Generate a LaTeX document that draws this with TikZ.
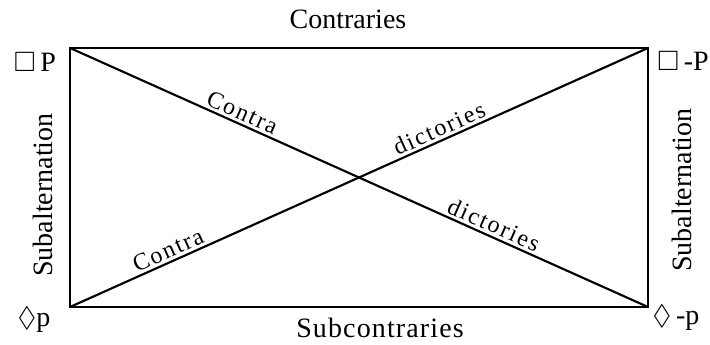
\documentclass[tikz,border=0pt]{standalone}
\usepackage{amssymb}
\usepackage{fontspec}
\setmainfont{Liberation Serif}
\usetikzlibrary{positioning}

\begin{document}
\begin{tikzpicture}[x=0.75pt, y=-0.75pt,
edge/.style={line width=1.6pt},
sidelabel/.style={font=\fontsize{21}{24}\selectfont, inner sep=0pt},
diaglabel/.style={font=\fontsize{18}{20}\selectfont\addfontfeatures{LetterSpace=8}, sloped, above, inner sep=2pt},
cornerlabel/.style={font=\fontsize{21}{24}\selectfont, inner sep=0pt}
]
\useasboundingbox (0,0) rectangle (710,345);

% Ecken
\coordinate (A) at (70,48);
\coordinate (E) at (648,48);
\coordinate (I) at (70,307);
\coordinate (O) at (648,307);

% Quadrat und Diagonalen
\draw[edge] (A) -- (E) -- (O) -- (I) -- cycle;
\draw[edge] (A) -- (O) node[diaglabel, pos=0.29] {Contra} node[diaglabel, pos=0.725] {dictories};
\draw[edge] (I) -- (E) node[diaglabel, pos=0.178] {Contra} node[diaglabel, pos=0.647] {dictories};

% Seiten
\node[sidelabel] (contr) at (348,19) {Contraries};
\node[sidelabel, font=\fontsize{21}{24}\selectfont\addfontfeatures{LetterSpace=4}] (subcontr) at (380,328) {Subcontraries};
\node[sidelabel, rotate=90] (subl) at (43,195) {Subalternation};
\node[sidelabel, rotate=90] (subr) at (682,190) {Subalternation};

% Ecken-Beschriftung
\node[cornerlabel] (la) at (35,62) {$\Box$\,P};
\node[cornerlabel] (le) at (683,61) {$\Box$\,-P};
\node[cornerlabel] (li) at (34,320) {$\Diamond$p};
\node[cornerlabel] (lo) at (676,318) {$\Diamond$\,-p};

\end{tikzpicture}
\end{document}
